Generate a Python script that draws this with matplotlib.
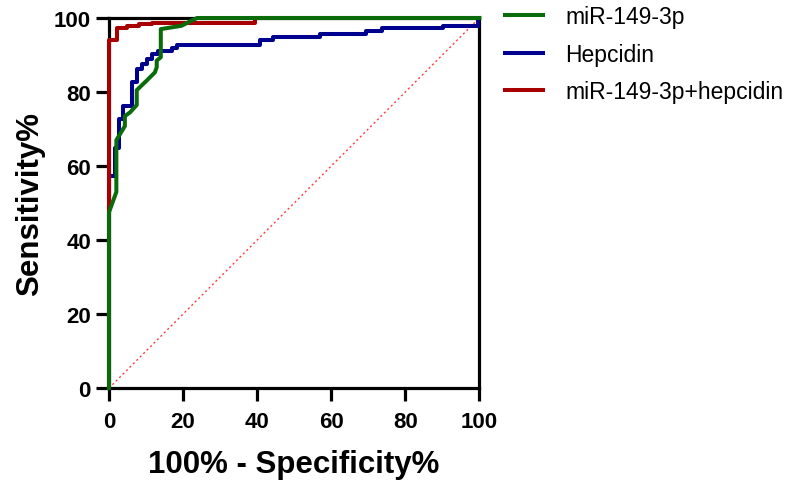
import matplotlib
matplotlib.use("Agg")
import matplotlib.pyplot as plt

# Data (100% - Specificity%, Sensitivity%)
mir_x = [0, 0, 2.0, 2.0, 4.3, 4.3, 5.7, 7.5, 7.5, 10.2, 12.4, 12.9, 12.9, 14.0, 14.0, 19.6, 22.3, 23.8, 100]
mir_y = [0, 47.5, 53.0, 67.0, 70.8, 73.5, 74.5, 76.5, 80.5, 83.1, 85.3, 86.7, 88.5, 89.4, 97.0, 97.9, 99.3, 100, 100]

hep_x = [0, 0, 1.6, 1.6, 2.6, 2.6, 3.9, 3.9, 6.1, 6.1, 7.5, 7.5, 8.8, 8.8, 10.2, 10.2, 11.5, 11.5,
         13.3, 13.3, 16.9, 16.9, 18.3, 18.3, 40.8, 40.8, 44.4, 44.4, 57.0, 57.0, 69.5, 69.5,
         73.6, 73.6, 90.2, 90.2, 99.7, 99.7, 100]
hep_y = [0, 57.4, 57.4, 65.0, 65.0, 72.7, 72.7, 76.3, 76.3, 82.6, 82.6, 86.2, 86.2, 87.6, 87.6, 89.0,
         89.0, 90.3, 90.3, 91.0, 91.0, 92.0, 92.0, 92.7, 92.7, 94.1, 94.1, 94.8, 94.8, 95.7, 95.7,
         96.6, 96.6, 97.3, 97.3, 97.9, 97.9, 100, 100]

comb_x = [0, 0, 2.1, 2.1, 4.8, 4.8, 8.0, 8.0, 11.5, 11.5, 39.5, 39.5, 100]
comb_y = [0, 94.0, 94.0, 97.2, 97.2, 97.8, 97.8, 98.3, 98.3, 98.7, 98.7, 100, 100]

ref_x = [0, 100]
ref_y = [0, 100]

labels = ["miR-149-3p", "Hepcidin", "miR-149-3p+hepcidin"]
colors = ["#0a6b0a", "#00008f", "#a80000"]
ticks = [0, 20, 40, 60, 80, 100]

plt.rcParams['font.family'] = ['Liberation Sans', 'DejaVu Sans']

fig = plt.figure(figsize=(8.07, 4.81), dpi=100)
ax = fig.add_axes([0.135, 0.191, 0.459, 0.7695])

ax.plot(ref_x, ref_y, color="#ff4040", lw=1.0, ls=(0, (1.5, 2)), zorder=1)
h1, = ax.plot(mir_x, mir_y, color=colors[0], lw=2.9, zorder=3, clip_on=False)
h2, = ax.plot(hep_x, hep_y, color=colors[1], lw=2.9, zorder=2, clip_on=False)
h3, = ax.plot(comb_x, comb_y, color=colors[2], lw=2.9, zorder=2.5, clip_on=False)

ax.set_xlim(0, 100)
ax.set_ylim(0, 100)
ax.set_xticks(ticks)
ax.set_yticks(ticks)
for s in ax.spines.values():
    s.set_linewidth(2.3)
    s.set_color("black")
    s.set_zorder(0)
ax.tick_params(axis='both', direction='out', length=9.5, width=2.3, labelsize=16)
ax.tick_params(axis='x', pad=7)
ax.tick_params(axis='y', pad=3.5)
for lab in ax.get_xticklabels() + ax.get_yticklabels():
    lab.set_fontweight('bold')

ax.set_xlabel("100% - Specificity%", fontsize=22.5, fontweight='bold', labelpad=12)
ax.set_ylabel("Sensitivity%", fontsize=22.5, fontweight='bold', labelpad=6)

ax.legend([h1, h2, h3], labels, loc='upper left', bbox_to_anchor=(1.069, 1.035),
          frameon=False, fontsize=16.5, handlelength=1.66, handletextpad=0.96,
          labelspacing=0.64, borderaxespad=0, borderpad=0)

fig.savefig("out.png", dpi=100)
